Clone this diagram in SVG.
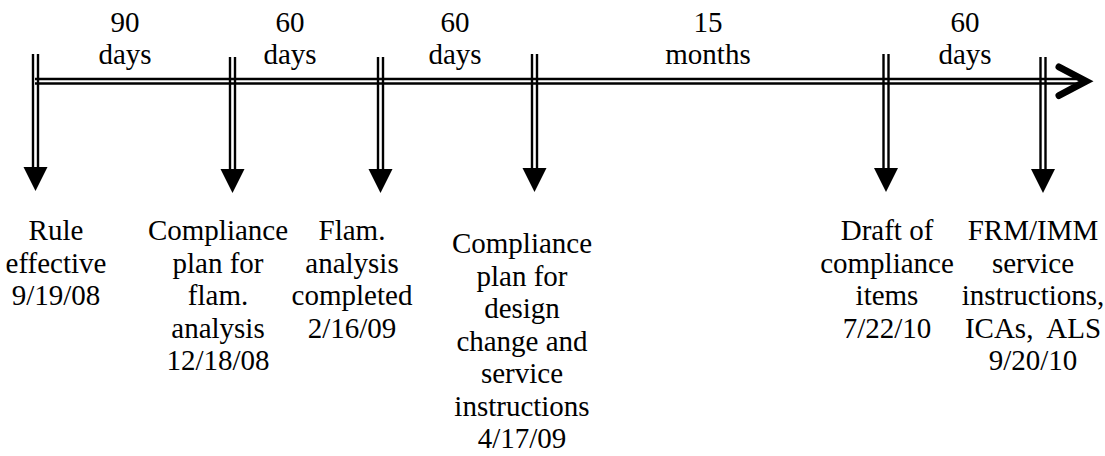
<svg xmlns="http://www.w3.org/2000/svg" width="1105" height="456" viewBox="0 0 1105 456">
<defs>
<style>
.ln{stroke:#000;stroke-width:2.4;fill:none}
.t{font-family:'Liberation Serif',serif;font-size:29px;fill:#000;text-anchor:middle}
</style>
<path id="ah" d="M-12,0 L12,0 L0,24 Z"/>
</defs>
<rect width="1105" height="456" fill="#fff"/>
<g id="connectors">
<g id="timeline">
<line class="ln" x1="35" y1="79" x2="1082" y2="79"/>
<line class="ln" x1="35" y1="83.5" x2="1082" y2="83.5"/>
<polyline points="1059,67 1086,81.2 1059,95.5" fill="none" stroke="#000" stroke-width="7" stroke-linecap="round" stroke-linejoin="miter"/>
</g>
<g id="tick1"><line class="ln" x1="33" y1="54" x2="33" y2="168"/><line class="ln" x1="38" y1="54" x2="38" y2="168"/><use href="#ah" x="35.5" y="167"/></g>
<g id="tick2"><line class="ln" x1="230" y1="57" x2="230" y2="170"/><line class="ln" x1="235" y1="57" x2="235" y2="170"/><use href="#ah" x="232.5" y="169"/></g>
<g id="tick3"><line class="ln" x1="378" y1="57" x2="378" y2="170"/><line class="ln" x1="383" y1="57" x2="383" y2="170"/><use href="#ah" x="380.5" y="169"/></g>
<g id="tick4"><line class="ln" x1="532" y1="54" x2="532" y2="169"/><line class="ln" x1="537" y1="54" x2="537" y2="169"/><use href="#ah" x="534.5" y="168"/></g>
<g id="tick5"><line class="ln" x1="883.5" y1="54" x2="883.5" y2="169"/><line class="ln" x1="888.5" y1="54" x2="888.5" y2="169"/><use href="#ah" x="886" y="168"/></g>
<g id="tick6"><line class="ln" x1="1040.5" y1="57" x2="1040.5" y2="170"/><line class="ln" x1="1045.5" y1="57" x2="1045.5" y2="170"/><use href="#ah" x="1043" y="169"/></g>
</g>
<g id="dur1"><text class="t" x="125" y="32">90</text><text class="t" x="125" y="64">days</text></g>
<g id="dur2"><text class="t" x="290" y="32">60</text><text class="t" x="290" y="64">days</text></g>
<g id="dur3"><text class="t" x="455" y="32">60</text><text class="t" x="455" y="64">days</text></g>
<g id="dur4"><text class="t" x="708" y="32">15</text><text class="t" x="708" y="64">months</text></g>
<g id="dur5"><text class="t" x="965" y="32">60</text><text class="t" x="965" y="64">days</text></g>
<g id="node1"><text class="t" x="56" y="240">Rule</text><text class="t" x="56" y="272.5">effective</text><text class="t" x="56" y="305">9/19/08</text></g>
<g id="node2"><text class="t" x="218" y="240">Compliance</text><text class="t" x="218" y="272.5">plan for</text><text class="t" x="218" y="305">flam.</text><text class="t" x="218" y="337.5">analysis</text><text class="t" x="218" y="370">12/18/08</text></g>
<g id="node3"><text class="t" x="352" y="240">Flam.</text><text class="t" x="352" y="272.5">analysis</text><text class="t" x="352" y="305">completed</text><text class="t" x="352" y="337.5">2/16/09</text></g>
<g id="node4"><text class="t" x="522" y="253">Compliance</text><text class="t" x="522" y="285.5">plan for</text><text class="t" x="522" y="318">design</text><text class="t" x="522" y="350.5">change and</text><text class="t" x="522" y="383">service</text><text class="t" x="522" y="415.5">instructions</text><text class="t" x="522" y="448">4/17/09</text></g>
<g id="node5"><text class="t" x="887" y="240">Draft of</text><text class="t" x="887" y="272.5">compliance</text><text class="t" x="887" y="305">items</text><text class="t" x="887" y="337.5">7/22/10</text></g>
<g id="node6"><text class="t" x="1033" y="240">FRM/IMM</text><text class="t" x="1033" y="272.5">service</text><text class="t" x="1033" y="305">instructions,</text><text class="t" x="1033" y="337.5" xml:space="preserve">ICAs,  ALS</text><text class="t" x="1033" y="370">9/20/10</text></g>
</svg>
